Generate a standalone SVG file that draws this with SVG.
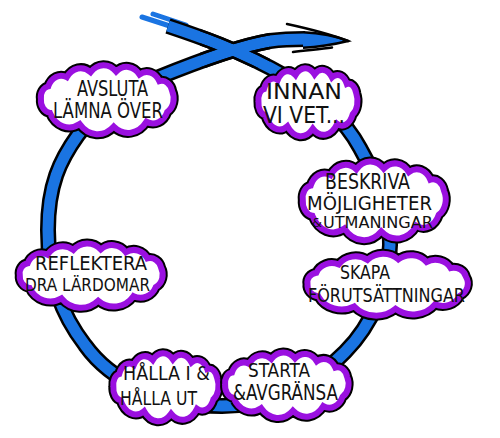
<svg xmlns="http://www.w3.org/2000/svg" xmlns:xlink="http://www.w3.org/1999/xlink" width="500" height="438" viewBox="0 0 500 438">
<style>
.rb{fill:none;stroke:#000;stroke-width:16;stroke-linecap:butt;stroke-linejoin:round}
.rf{fill:none;stroke:#1a74e2;stroke-width:11;stroke-linecap:butt;stroke-linejoin:round}
.co{fill:#fff;stroke:#000;stroke-width:10}
.ci{fill:#fff;stroke:#9a10e0;stroke-width:6}
.t{font-family:"Liberation Sans Narrow","DejaVu Sans Condensed","Liberation Sans",sans-serif;fill:#111}
.al{fill:none;stroke:#000;stroke-width:2.5;stroke-linecap:round}
</style>
<defs>
<path id="ring" d="M168,26 C195,35 240,50 285,76 C320,98 345,120 360,148 C378,180 391,212 390,245 C389,285 372,325 345,352 C310,388 265,406 222,406 C160,406 110,380 85,345 C62,315 48,280 48,230 C48,185 60,160 78,135 C100,105 128,90 157,78 C189,65 240,46 270,41 C285,39 295,39 305,39"/>
<path id="cloud" vector-effect="non-scaling-stroke" d="M-66,0 A8.6,8.6 0 0 1 -58.8,-10 A13.7,13.7 0 0 1 -40.6,-17.3 A16.7,16.7 0 0 1 -17.1,-21.3 A17.6,17.6 0 0 1 8,-21.8 A16.2,16.2 0 0 1 31,-19.4 A14.2,14.2 0 0 1 50.6,-14.1 A10.3,10.3 0 0 1 63.1,-6.4 A12.2,12.2 0 0 1 58.3,10.3 A15.3,15.3 0 0 1 37.9,18 A22.7,22.7 0 0 1 5.7,21.9 A23.6,23.6 0 0 1 -27.9,19.9 A21.4,21.4 0 0 1 -57.2,11 A9.9,9.9 0 0 1 -66,0 Z"/>
<mask id="ol" maskUnits="userSpaceOnUse" x="0" y="0" width="500" height="438">
<use xlink:href="#ring" href="#ring" fill="none" stroke="#fff" stroke-width="16"/>
<use xlink:href="#ring" href="#ring" fill="none" stroke="#000" stroke-width="11"/>
</mask>
</defs>

<g id="connectors">
<path d="M142,17 L176,28" stroke="#1a74e2" stroke-width="5" stroke-linecap="round" fill="none"/>
<path d="M153,14 L186,25" stroke="#1a74e2" stroke-width="5" stroke-linecap="round" fill="none"/>
<use xlink:href="#ring" href="#ring" class="rb"/>
<use xlink:href="#ring" href="#ring" class="rf"/>
<rect x="200" y="28" width="70" height="40" fill="#000" mask="url(#ol)"/>
<path d="M303,32.3 C322,33 336,36 348,41 C336,44 320,47 303,47.7" fill="#1a74e2" stroke="#000" stroke-width="2.5"/>
<path class="al" d="M287,24 C310,29 330,34 348,41"/>
<path class="al" d="M293,52 C310,50 322,49 332,47.5"/>
</g>

<g id="n-innan">
<use xlink:href="#cloud" href="#cloud" class="co" transform="translate(308.5,101.5) scale(0.758,1.24)"/>
<use xlink:href="#cloud" href="#cloud" class="ci" transform="translate(308.5,101.5) scale(0.758,1.24)"/>
<text class="t" x="266" y="99" font-size="22" textLength="76" lengthAdjust="spacingAndGlyphs">INNAN</text>
<text class="t" x="263" y="123" font-size="23" textLength="82" lengthAdjust="spacingAndGlyphs">VI VET...</text>
</g>

<g id="n-beskriva">
<use xlink:href="#cloud" href="#cloud" class="co" transform="translate(375,200) scale(1.094,1.435)"/>
<use xlink:href="#cloud" href="#cloud" class="ci" transform="translate(375,200) scale(1.094,1.435)"/>
<text class="t" x="325" y="189" font-size="21" textLength="85" lengthAdjust="spacingAndGlyphs">BESKRIVA</text>
<text class="t" x="307" y="210" font-size="19" textLength="125" lengthAdjust="spacingAndGlyphs">MÖJLIGHETER</text>
<text class="t" x="312" y="227" font-size="13" textLength="10" lengthAdjust="spacingAndGlyphs">&amp;</text>
<text class="t" x="323" y="228" font-size="15" textLength="110" lengthAdjust="spacingAndGlyphs">UTMANINGAR</text>
</g>

<g id="n-skapa">
<use xlink:href="#cloud" href="#cloud" class="co" transform="translate(388.5,284) scale(1.227,1.13)"/>
<use xlink:href="#cloud" href="#cloud" class="ci" transform="translate(388.5,284) scale(1.227,1.13)"/>
<text class="t" x="340" y="279" font-size="20" textLength="50" lengthAdjust="spacingAndGlyphs">SKAPA</text>
<text class="t" x="308" y="302" font-size="20" textLength="157" lengthAdjust="spacingAndGlyphs">FÖRUTSÄTTNINGAR</text>
</g>

<g id="n-halla">
<use xlink:href="#cloud" href="#cloud" class="co" transform="translate(166.5,386.5) scale(0.805,1.24)"/>
<use xlink:href="#cloud" href="#cloud" class="ci" transform="translate(166.5,386.5) scale(0.805,1.24)"/>
<text class="t" x="123" y="380" font-size="20" textLength="87" lengthAdjust="spacingAndGlyphs">HÅLLA I &amp;</text>
<text class="t" x="120" y="405" font-size="20" textLength="77" lengthAdjust="spacingAndGlyphs">HÅLLA UT</text>
</g>

<g id="n-starta">
<use xlink:href="#cloud" href="#cloud" class="co" transform="translate(287.5,384.5) scale(0.945,1.196)"/>
<use xlink:href="#cloud" href="#cloud" class="ci" transform="translate(287.5,384.5) scale(0.945,1.196)"/>
<text class="t" x="248" y="377" font-size="20" textLength="62" lengthAdjust="spacingAndGlyphs">STARTA</text>
<text class="t" x="233" y="400" font-size="22" textLength="105" lengthAdjust="spacingAndGlyphs">&amp;AVGRÄNSA</text>
</g>

<g id="n-reflektera">
<use xlink:href="#cloud" href="#cloud" class="co" transform="translate(92,275) scale(1.094,1.174)"/>
<use xlink:href="#cloud" href="#cloud" class="ci" transform="translate(92,275) scale(1.094,1.174)"/>
<text class="t" x="35" y="270" font-size="20" textLength="112" lengthAdjust="spacingAndGlyphs">REFLEKTERA</text>
<text class="t" x="25" y="291" font-size="18" textLength="125" lengthAdjust="spacingAndGlyphs">DRA LÄRDOMAR</text>
</g>

<g id="n-avsluta">
<use xlink:href="#cloud" href="#cloud" class="co" transform="translate(108,99) scale(1.016,1.26)"/>
<use xlink:href="#cloud" href="#cloud" class="ci" transform="translate(108,99) scale(1.016,1.26)"/>
<text class="t" x="77" y="96" font-size="22" textLength="71" lengthAdjust="spacingAndGlyphs">AVSLUTA</text>
<text class="t" x="53" y="118" font-size="21" textLength="110" lengthAdjust="spacingAndGlyphs">LÄMNA ÖVER</text>
</g>
</svg>
